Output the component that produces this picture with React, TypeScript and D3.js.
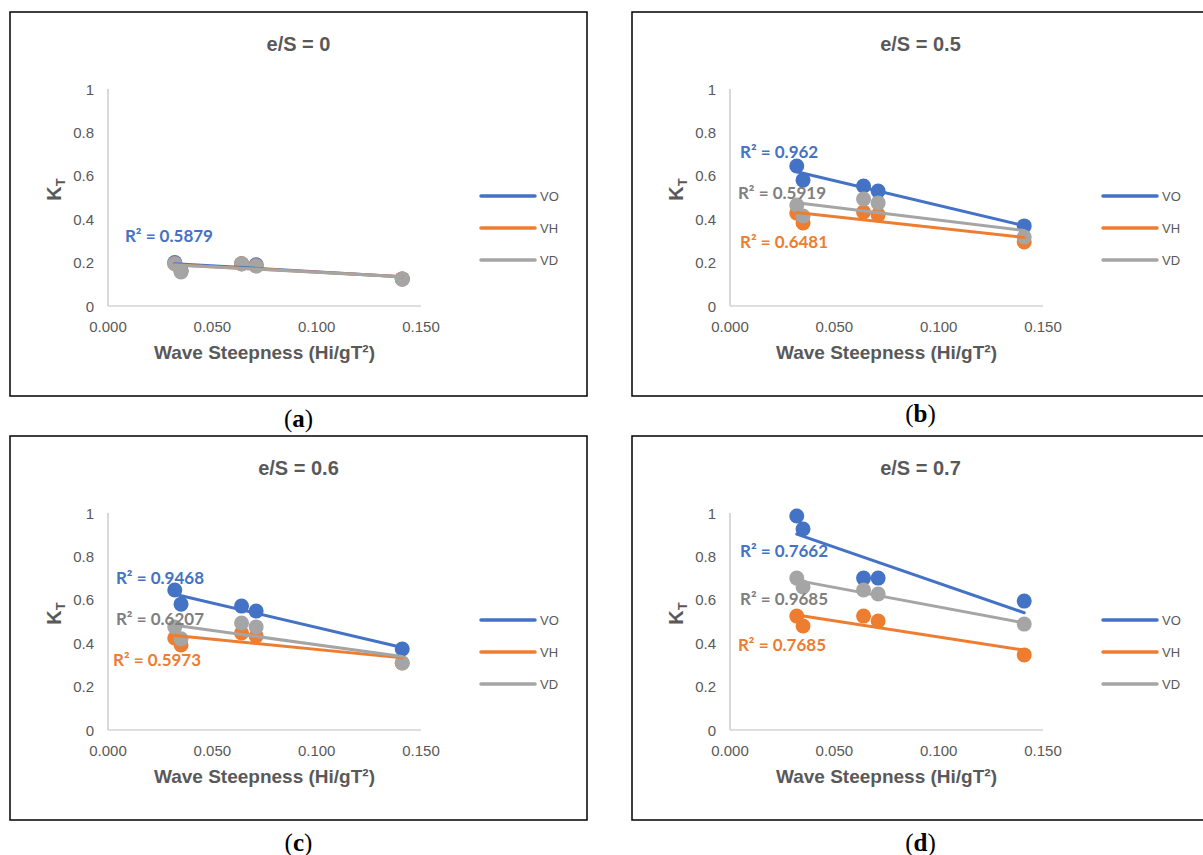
import React from "react";
import * as d3 from "d3";

// wave steepness (Hi/gT²) of the five tested waves
const steepness = [0.032, 0.035, 0.064, 0.071, 0.141];

const seriesNames = ["VO", "VH", "VD"];
const seriesColors = ["#4472C4", "#ED7D31", "#A5A5A5"];
const labelColors = ["#4472C4", "#ED7D31", "#7F7F7F"];

// K_T per panel, per series
const ktA = [
  [0.2, 0.165, 0.195, 0.19, 0.125],
  [0.195, 0.16, 0.195, 0.185, 0.125],
  [0.195, 0.157, 0.194, 0.184, 0.124],
];
const ktB = [
  [0.645, 0.58, 0.553, 0.53, 0.369],
  [0.428, 0.383, 0.433, 0.42, 0.295],
  [0.465, 0.415, 0.493, 0.475, 0.318],
];
const ktC = [
  [0.645, 0.58, 0.571, 0.548, 0.373],
  [0.424, 0.392, 0.447, 0.433, 0.309],
  [0.475, 0.42, 0.493, 0.475, 0.309],
];
const ktD = [
  [0.986, 0.926, 0.7, 0.7, 0.594],
  [0.525, 0.479, 0.525, 0.502, 0.346],
  [0.7, 0.659, 0.645, 0.627, 0.488],
];

// R² annotations: [series index, text, x (data), y (data)]
const r2A: [number, string, number, number][] = [[0, "R² = 0.5879", 0.0081, 0.323]];
const r2B: [number, string, number, number][] = [
  [0, "R² = 0.962", 0.0048, 0.714],
  [2, "R² = 0.5919", 0.0038, 0.521],
  [1, "R² = 0.6481", 0.0048, 0.295],
];
const r2C: [number, string, number, number][] = [
  [0, "R² = 0.9468", 0.0038, 0.705],
  [2, "R² = 0.6207", 0.0038, 0.516],
  [1, "R² = 0.5973", 0.0024, 0.327],
];
const r2D: [number, string, number, number][] = [
  [0, "R² = 0.7662", 0.0048, 0.829],
  [2, "R² = 0.9685", 0.0048, 0.608],
  [1, "R² = 0.7685", 0.0038, 0.392],
];

const xTicks = [0, 0.05, 0.1, 0.15];
const yTicks = [0, 0.2, 0.4, 0.6, 0.8, 1];

const panelW = 577;
const panelH = 384;

function fit(xs: number[], ys: number[]) {
  const mx = d3.mean(xs)!;
  const my = d3.mean(ys)!;
  const sxy = d3.sum(xs, (x, i) => (x - mx) * (ys[i] - my));
  const sxx = d3.sum(xs, (x) => (x - mx) ** 2);
  const b = sxy / sxx;
  return (x: number) => my + b * (x - mx);
}

const Panel = ({ left, top, title, kt, r2, caption, capY }) => {
  const x = d3.scaleLinear().domain([0, 0.15]).range([98, 411]);
  const y = d3.scaleLinear().domain([0, 1]).range([294, 77]);
  const grey = "#595959";
  const ext = d3.extent(steepness) as [number, number];

  return (
    <g>
      <g transform={`translate(${left},${top})`}>
        <rect x={0} y={0} width={panelW} height={panelH} fill="#fff" stroke="#000" strokeWidth={1.5} />
        <text x={panelW / 2} y={32} textAnchor="middle" dominantBaseline="central"
          fontFamily="Liberation Sans, Arial" fontWeight="bold" fontSize={20} fill={grey}>{title}</text>

        {/* axes */}
        <line x1={x(0)} x2={x(0)} y1={y(1)} y2={y(0)} stroke="#BFBFBF" strokeWidth={1.2} />
        <line x1={x(0)} x2={x(0.15)} y1={y(0)} y2={y(0)} stroke="#BFBFBF" strokeWidth={1.2} />
        {yTicks.map((t) => (
          <text key={"y" + t} x={x(0) - 14} y={y(t)} textAnchor="end" dominantBaseline="central"
            fontFamily="Liberation Sans, Arial" fontSize={15} fill={grey}>{String(t)}</text>
        ))}
        {xTicks.map((t) => (
          <text key={"x" + t} x={x(t)} y={y(0) + 20} textAnchor="middle" dominantBaseline="central"
            fontFamily="Liberation Sans, Arial" fontSize={15} fill={grey}>{d3.format(".3f")(t)}</text>
        ))}
        <text x={(x(0) + x(0.15)) / 2} y={y(0) + 46} textAnchor="middle" dominantBaseline="central"
          fontFamily="Liberation Sans, Arial" fontWeight="bold" fontSize={19} fill={grey}>
          Wave Steepness (Hi/gT²)
        </text>
        <text transform={`translate(44,${(y(0) + y(1)) / 2 - 8}) rotate(-90)`} textAnchor="middle" dominantBaseline="central"
          fontFamily="Liberation Sans, Arial" fontWeight="bold" fontSize={20} fill={grey}>
          K<tspan fontSize={13} dy={6}>T</tspan>
        </text>

        {/* markers */}
        {kt.map((vals, si) =>
          vals.map((v, i) => (
            <circle key={si + "-" + i} cx={x(steepness[i])} cy={y(v)} r={7.5} fill={seriesColors[si]} />
          ))
        )}
        {/* linear trendlines */}
        {kt.map((vals, si) => {
          const f = fit(steepness, vals);
          return (
            <line key={"t" + si} x1={x(ext[0])} y1={y(f(ext[0]))} x2={x(ext[1])} y2={y(f(ext[1]))}
              stroke={seriesColors[si]} strokeWidth={3} strokeLinecap="round" />
          );
        })}
        {r2.map(([si, txt, lx, ly], i) => (
          <text key={"r" + i} x={x(lx)} y={y(ly)} dominantBaseline="central"
            fontFamily="Lato, Carlito, Calibri" fontWeight="bold" fontSize={17} fill={labelColors[si]}>{txt}</text>
        ))}

        {/* legend */}
        {seriesNames.map((n, i) => (
          <g key={n} transform={`translate(471,${184 + i * 32})`}>
            <line x1={0} x2={54} y1={0} y2={0} stroke={seriesColors[i]} strokeWidth={3.5} strokeLinecap="round" />
            <text x={59} y={0} dominantBaseline="central" fontFamily="Liberation Sans, Arial" fontSize={13} fill={grey}>{n}</text>
          </g>
        ))}
      </g>
      <text x={left + panelW / 2} y={capY} textAnchor="middle" dominantBaseline="central"
        fontFamily="Liberation Serif, Times New Roman, serif" fontSize={25} fill="#000">
        (<tspan fontWeight="bold">{caption}</tspan>)
      </text>
    </g>
  );
};

export default function App() {
  return (
    <svg width={1203} height={855} style={{ position: "absolute", left: 0, top: 0, background: "#fff" }}>
      <Panel left={10} top={12} title="e/S = 0" kt={ktA} r2={r2A} caption="a" capY={418} />
      <Panel left={632} top={12} title="e/S = 0.5" kt={ktB} r2={r2B} caption="b" capY={413} />
      <Panel left={10} top={436} title="e/S = 0.6" kt={ktC} r2={r2C} caption="c" capY={842} />
      <Panel left={632} top={436} title="e/S = 0.7" kt={ktD} r2={r2D} caption="d" capY={842} />
    </svg>
  );
}
